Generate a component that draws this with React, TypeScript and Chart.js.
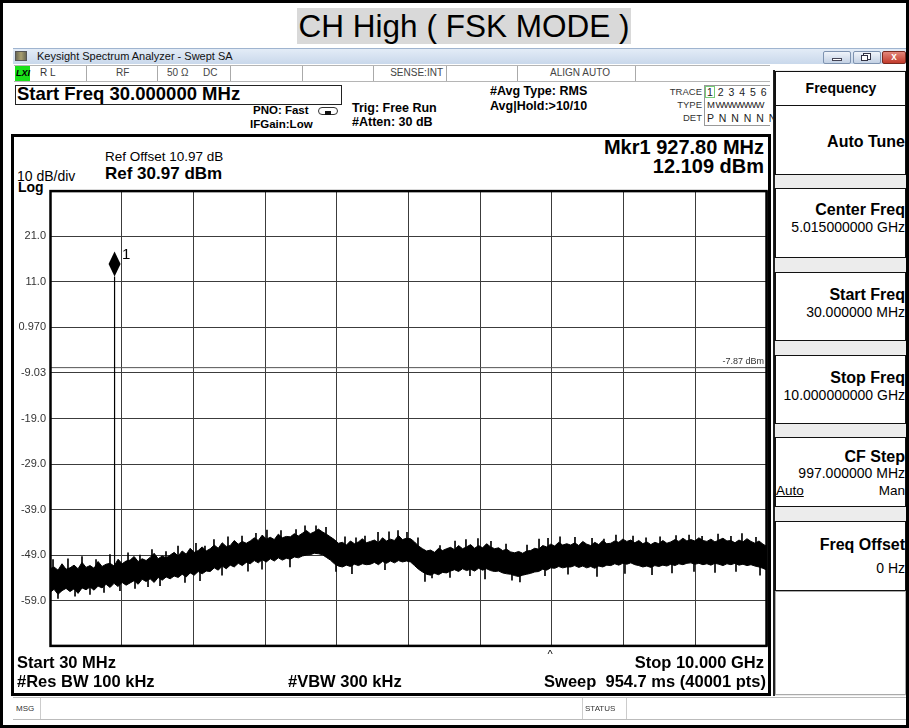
import React, { useEffect, useRef } from "react";
import { Chart, registerables } from "chart.js";

Chart.register(...registerables);

// ---------- data ----------
const startMHz = 30;
const stopMHz = 10000;
const xGridMHz = [30, 1027, 2024, 3021, 4018, 5015, 6012, 7009, 8006, 9003, 10000];
const yTicksDbm = [30.97, 20.97, 10.97, 0.97, -9.03, -19.03, -29.03, -39.03, -49.03, -59.03, -69.03];
const yTickLabels = ["", "21.0", "11.0", "0.970", "-9.03", "-19.0", "-29.0", "-39.0", "-49.0", "-59.0", ""];
const markerFreqMHz = 927.8;
const markerLevelDbm = 12.109;
const signalBaseDbm = -54.5;
const displayLineDbm = -7.87;

// upper / lower envelope of the noise trace, equally spaced from start to stop
const traceUpperDbm = [
  -52.0, -51.6, -52.3, -50.9, -52.1, -51.8, -51.2, -52.0, -50.6, -51.7,
  -51.3, -51.9, -50.4, -51.5, -51.0, -50.8, -51.4, -49.9, -50.9, -50.3,
  -50.1, -49.3, -50.4, -49.8, -50.2, -49.5, -48.6, -49.8, -49.2, -49.6,
  -49.0, -48.4, -49.2, -48.1, -48.8, -47.5, -48.4, -48.0, -47.2, -48.1,
  -47.6, -46.8, -47.5, -46.3, -47.1, -46.9, -45.8, -46.6, -46.0, -46.4,
  -45.9, -45.2, -45.8, -44.6, -45.5, -45.1, -45.6, -44.4, -45.2, -44.9,
  -45.0, -44.3, -44.8, -44.2, -43.6, -44.3, -43.9, -43.3, -43.9, -44.4,
  -45.0, -45.6, -46.4, -46.2, -46.8, -45.9, -46.5, -46.1, -45.4, -46.3,
  -46.0, -45.7, -46.3, -45.2, -45.9, -45.5, -45.8, -44.7, -45.6, -45.3,
  -45.4, -46.1, -47.0, -47.6, -48.1, -47.9, -48.4, -47.5, -48.0, -47.6,
  -47.3, -47.8, -46.9, -47.6, -47.2, -46.7, -47.5, -46.9, -47.4, -46.5,
  -47.2, -47.6, -47.4, -48.0, -47.7, -48.3, -48.5, -48.2, -48.6, -48.1,
  -48.0, -47.5, -47.7, -46.9, -47.2, -46.6, -47.0, -46.2, -46.8, -46.5,
  -46.8, -46.3, -46.9, -46.0, -46.6, -46.9, -46.2, -46.7, -45.8, -46.5,
  -46.4, -45.9, -46.2, -45.5, -46.0, -45.7, -46.3, -45.8, -46.5, -46.1,
  -46.7, -46.2, -46.5, -45.8, -46.4, -46.1, -45.6, -46.0, -45.3, -45.9,
  -45.6, -45.9, -45.2, -45.8, -46.0, -45.5, -46.1, -45.7, -45.3, -45.9,
  -45.8, -46.3, -45.7, -46.1, -45.4, -46.0, -46.4, -45.9, -46.6, -47.1,
];
const traceLowerDbm = [
  -57.2, -56.5, -57.6, -56.8, -56.3, -57.0, -56.4, -57.4, -56.2, -56.6,
  -56.0, -56.7, -55.8, -56.2, -55.4, -56.1, -55.2, -55.9, -55.0, -55.6,
  -55.1, -54.6, -55.4, -54.3, -54.8, -54.2, -55.0, -53.9, -54.5, -53.8,
  -54.2, -53.6, -53.9, -53.2, -53.8, -52.9, -53.4, -52.6, -53.1, -52.5,
  -52.6, -51.8, -52.3, -51.4, -52.0, -51.2, -51.6, -50.8, -51.3, -50.6,
  -50.9, -50.2, -50.7, -50.0, -50.5, -49.8, -50.3, -49.6, -50.1, -49.7,
  -49.9, -49.4, -49.6, -49.2, -49.0, -48.9, -48.6, -48.7, -48.9, -49.5,
  -50.1, -50.9, -51.4, -51.6, -51.2, -51.5, -51.0, -51.3, -50.9, -51.1,
  -51.0, -50.6, -51.1, -50.4, -50.8, -50.3, -50.7, -50.2, -50.5, -50.3,
  -50.5, -51.3, -52.1, -52.7, -53.2, -53.4, -53.0, -53.3, -52.8, -52.9,
  -52.5, -52.2, -52.6, -52.0, -52.4, -52.1, -52.5, -51.9, -52.3, -52.0,
  -52.4, -52.6, -52.5, -52.9, -53.1, -53.2, -53.5, -53.7, -53.4, -53.2,
  -53.0, -52.7, -52.6, -52.1, -52.3, -51.8, -51.9, -51.5, -51.8, -51.6,
  -51.6, -51.3, -51.7, -51.4, -51.8, -51.5, -51.9, -51.4, -51.6, -51.2,
  -51.3, -50.9, -51.2, -50.8, -51.0, -50.7, -51.1, -51.3, -51.6, -51.4,
  -51.7, -51.3, -51.5, -51.2, -51.4, -51.0, -51.3, -50.9, -51.1, -50.8,
  -50.7, -51.0, -50.8, -51.1, -50.9, -51.2, -50.8, -51.0, -51.3, -50.9,
  -51.1, -50.8, -51.2, -51.0, -51.3, -51.1, -51.4, -51.6, -51.9, -52.3,
];

// isolated noise peaks above the band and dips below it
const peakFreqMHz = [
  72, 280, 475, 670, 864, 1115, 1281, 1448, 1643, 1810, 2060, 2185, 2310, 2505, 2700, 2894,
  3047, 3242, 3451, 3576, 3729, 3868, 4132, 4285, 4410, 4591, 4744, 4869, 4994, 5147, 5453,
  5662, 5814, 5981, 6162, 6371, 6663, 6830, 6955, 7122, 7330, 7567, 7733, 7900, 8137, 8318,
  8513, 8735, 8916, 9097, 9319, 9499, 9652, 9847,
];
const peakTopDbm = [
  -50.0, -49.8, -49.3, -50.0, -48.9, -48.5, -49.0, -47.8, -48.2, -47.0, -46.4, -47.0, -45.6, -45.0, -44.8, -44.2,
  -43.5, -43.6, -43.4, -42.6, -42.6, -42.9, -45.0, -45.2, -44.8, -44.0, -43.9, -43.6, -44.0, -45.2, -46.9,
  -45.9, -45.6, -45.4, -46.0, -46.6, -46.8, -45.5, -45.3, -45.0, -45.1, -45.3, -45.5, -44.6, -44.8, -45.2,
  -45.0, -44.7, -44.6, -44.9, -44.4, -44.9, -44.3, -45.1,
];
const dipFreqMHz = [
  141, 378, 586, 781, 1003, 1212, 1393, 1560, 1907, 2116, 2422, 2783, 2978, 3367, 4007, 4229,
  4688, 5244, 5342, 5592, 5870, 6079, 6454, 6565, 6913, 7233, 7636, 8025, 8401, 8679, 8985,
  9277, 9569, 9903,
];
const dipBottomDbm = [
  -58.5, -58.0, -57.6, -57.2, -56.8, -56.3, -55.9, -55.7, -55.0, -54.6, -53.4, -52.5, -52.1, -51.6, -52.6, -53.1,
  -52.2, -54.8, -54.0, -53.9, -53.5, -54.2, -54.5, -54.9, -53.5, -53.2, -53.7, -53.0, -53.3, -52.9, -52.6,
  -52.8, -52.6, -53.4,
];
const peakLengthDb = 4;

// ---------- helpers ----------
const FONT = '"Liberation Sans", Arial, Helvetica, sans-serif';
const W = 909;

type TP = {
  x: number; cy: number; s: number; b?: boolean; a?: "l" | "r" | "c";
  c?: string; children: React.ReactNode; style?: React.CSSProperties;
};
function T({ x, cy, s, b, a = "l", c = "#000", children, style }: TP) {
  const st: React.CSSProperties = {
    position: "absolute", top: cy - 0.49 * s, fontSize: s, lineHeight: `${s}px`,
    fontWeight: b ? 700 : 400, color: c, whiteSpace: "pre", fontFamily: FONT, ...style,
  };
  if (a === "l") st.left = x;
  else if (a === "r") st.right = W - x;
  else { st.left = x; st.transform = "translateX(-50%)"; }
  return <div style={st}>{children}</div>;
}
function B({ x, y, w, h, style }: { x: number; y: number; w: number; h: number; style?: React.CSSProperties }) {
  return <div style={{ position: "absolute", left: x, top: y, width: w, height: h, boxSizing: "border-box", ...style }} />;
}
function VL({ x, y, h, c = "#aaa" }: { x: number; y: number; h: number; c?: string }) {
  return <B x={x} y={y} w={1} h={h} style={{ background: c }} />;
}

const overlayPlugin = {
  id: "saOverlay",
  afterDatasetsDraw(chart: any) {
    const { ctx, chartArea: a, scales } = chart;
    const xs = scales.x, ys = scales.y;
    ctx.save();
    ctx.strokeStyle = "#000";
    ctx.lineWidth = 2.5;
    ctx.strokeRect(a.left + 0.5, a.top + 0.5, a.right - a.left - 1, a.bottom - a.top - 1);
    // display line label
    ctx.font = `9px ${FONT}`;
    ctx.fillStyle = "#333";
    ctx.textAlign = "right";
    ctx.textBaseline = "bottom";
    ctx.fillText(`${displayLineDbm.toFixed(2)} dBm`, a.right - 3, ys.getPixelForValue(displayLineDbm) - 2);
    // marker diamond
    const px = xs.getPixelForValue(markerFreqMHz);
    const py = ys.getPixelForValue(markerLevelDbm);
    ctx.beginPath();
    ctx.moveTo(px, py);
    ctx.lineTo(px + 6, py - 12.5);
    ctx.lineTo(px, py - 25);
    ctx.lineTo(px - 6, py - 12.5);
    ctx.closePath();
    ctx.fillStyle = "#000";
    ctx.fill();
    ctx.font = `15px ${FONT}`;
    ctx.textAlign = "left";
    ctx.textBaseline = "middle";
    ctx.fillText("1", px + 7.5, py - 22);
    ctx.restore();
  },
};

export default function App() {
  const ref = useRef<HTMLCanvasElement>(null);
  useEffect(() => {
    const n = traceUpperDbm.length;
    const step = (stopMHz - startMHz) / (n - 1);
    const up = traceUpperDbm.map((v, i) => ({ x: startMHz + i * step, y: v }));
    const lo = traceLowerDbm.map((v, i) => ({ x: startMHz + i * step, y: v }));
    const peaks = peakFreqMHz.map((f, i) => ({ x: f, y: [peakTopDbm[i] - peakLengthDb, peakTopDbm[i]] }));
    const dips = dipFreqMHz.map((f, i) => ({ x: f, y: [dipBottomDbm[i], dipBottomDbm[i] + peakLengthDb] }));
    const chart = new Chart(ref.current as HTMLCanvasElement, {
      type: "line",
      data: {
        datasets: [
          { data: lo, borderColor: "#000", borderWidth: 1, pointRadius: 0, fill: false },
          { data: up, borderColor: "#000", backgroundColor: "#000", borderWidth: 1, pointRadius: 0, fill: "-1" },
          { type: "bar", data: peaks, backgroundColor: "#000", barThickness: 1, grouped: false },
          { type: "bar", data: dips, backgroundColor: "#000", barThickness: 1, grouped: false },
          {
            data: [{ x: markerFreqMHz, y: signalBaseDbm }, { x: markerFreqMHz, y: markerLevelDbm }],
            borderColor: "#000", borderWidth: 1.2, pointRadius: 0, fill: false,
          },
          {
            data: [{ x: startMHz, y: displayLineDbm }, { x: stopMHz, y: displayLineDbm }],
            borderColor: "#555", borderWidth: 1, pointRadius: 0, fill: false,
          },
        ],
      } as any,
      options: {
        animation: false,
        responsive: false,
        maintainAspectRatio: false,
        devicePixelRatio: 1,
        layout: { padding: { left: 0, right: 7, top: 7, bottom: 7 } },
        plugins: { legend: { display: false }, tooltip: { enabled: false } },
        elements: { line: { tension: 0 } },
        scales: {
          x: {
            type: "linear", min: startMHz, max: stopMHz, offset: false,
            afterBuildTicks: (s: any) => { s.ticks = xGridMHz.map((v) => ({ value: v })); },
            afterFit: (s: any) => { s.height = 0; },
            ticks: { display: false },
            grid: { color: "#3c3c3c", lineWidth: 1, drawTicks: false, offset: false },
            border: { display: false },
          },
          y: {
            type: "linear", min: -69.03, max: 30.97,
            afterBuildTicks: (s: any) => { s.ticks = yTicksDbm.map((v) => ({ value: v })); },
            afterFit: (s: any) => { s.width = 36; },
            ticks: {
              padding: 4,
              color: "#333",
              font: { family: FONT, size: 11 },
              callback: (value: any) => {
                const i = yTicksDbm.findIndex((v) => Math.abs(v - Number(value)) < 1e-6);
                return i >= 0 ? yTickLabels[i] : "";
              },
            },
            grid: { color: "#3c3c3c", lineWidth: 1, drawTicks: false },
            border: { display: false },
          },
        },
      } as any,
      plugins: [overlayPlugin],
    });
    return () => chart.destroy();
  }, []);

  const keyBox = (y: number, h: number) => (
    <B x={774} y={y} w={132} h={h} style={{ background: "#fff", border: "1px solid #111", borderLeft: "2px solid #111" }} />
  );

  return (
    <div style={{ position: "absolute", left: 0, top: 0, width: W, height: 728, background: "#fff", overflow: "hidden", fontFamily: FONT }}>
      {/* title */}
      <div style={{ position: "absolute", left: 164, width: 600, top: 8, textAlign: "center" }}>
        <span style={{ background: "#d9d9d9", fontSize: 31.5, lineHeight: "36px", padding: "0 2px", display: "inline-block", fontFamily: FONT }}>
          CH High ( FSK MODE )
        </span>
      </div>

      {/* window title bar */}
      <B x={13} y={48} w={893} h={16} style={{ background: "linear-gradient(#e3ecf7, #c9d8eb)", borderTop: "1px solid #9fb4cf" }} />
      <B x={15} y={51} w={12} h={10} style={{ background: "linear-gradient(90deg,#6b6a55,#a89f70,#6b6a55)", border: "1px solid #555" }} />
      <T x={37} cy={56} s={11} c="#111">Keysight Spectrum Analyzer - Swept SA</T>
      <B x={823} y={51} w={28} h={13} style={{ background: "linear-gradient(#f0f4fa,#c3d1e4)", border: "1px solid #7e93b0", borderRadius: 2 }} />
      <B x={832} y={58} w={10} h={3} style={{ background: "#fff", border: "1px solid #445" }} />
      <B x={853} y={51} w={28} h={13} style={{ background: "linear-gradient(#f0f4fa,#c3d1e4)", border: "1px solid #7e93b0", borderRadius: 2 }} />
      <B x={863} y={53} w={8} h={7} style={{ border: "1px solid #334", background: "#fff" }} />
      <B x={861} y={55} w={7} h={6} style={{ border: "1px solid #334", background: "#fff" }} />
      <B x={882} y={51} w={24} h={13} style={{ background: "linear-gradient(#e2867a,#c23b2c)", border: "1px solid #7a2a20", borderRadius: 2 }} />
      <T x={894} cy={57} s={10} b a="c" c="#fff">x</T>

      {/* status row */}
      <B x={14} y={65} w={756} h={17} style={{ background: "#fff", borderTop: "1px solid #b5b5b5", borderBottom: "1px solid #b5b5b5" }} />
      <B x={15} y={66} w={15} h={15} style={{ background: "#19e019" }} />
      <T x={16} cy={73} s={9} b c="#000" style={{ fontStyle: "italic" }}>LXI</T>
      <T x={40} cy={73} s={10} c="#333">R L</T>
      <VL x={86} y={66} h={15} />
      <T x={116} cy={73} s={10} c="#444">RF</T>
      <VL x={157} y={66} h={15} />
      <T x={167} cy={73} s={10} c="#444">50 Ω</T>
      <T x={203} cy={73} s={10} c="#444">DC</T>
      <VL x={230} y={66} h={15} />
      <VL x={302} y={66} h={15} />
      <VL x={373} y={66} h={15} />
      <T x={443} cy={73} s={10} a="r" c="#444">SENSE:INT</T>
      <VL x={446} y={66} h={15} />
      <VL x={517} y={66} h={15} />
      <T x={580} cy={73} s={10} a="c" c="#444">ALIGN AUTO</T>
      <VL x={635} y={66} h={15} />

      {/* header info */}
      <B x={15} y={85} w={327} h={20} style={{ border: "1px solid #222", background: "#fff" }} />
      <T x={17} cy={94} s={18.5} b>Start Freq 30.000000 MHz</T>
      <T x={253} cy={111} s={11.5} b>PNO: Fast</T>
      <T x={250} cy={125} s={11.5} b>IFGain:Low</T>
      <B x={318} y={107} w={20} h={8} style={{ border: "1.5px solid #333", borderRadius: 5 }} />
      <B x={325} y={111} w={6} h={4} style={{ background: "#111" }} />
      <T x={352} cy={108} s={12.5} b>Trig: Free Run</T>
      <T x={352} cy={122} s={12.5} b>#Atten: 30 dB</T>
      <T x={490} cy={91.5} s={12.5} b>#Avg Type: RMS</T>
      <T x={490} cy={106.5} s={12.5} b>Avg|Hold:&gt;10/10</T>
      <T x={702} cy={92} s={9.5} a="r" c="#333">TRACE</T>
      <T x={702} cy={105} s={9.5} a="r" c="#333">TYPE</T>
      <T x={702} cy={118} s={9.5} a="r" c="#333">DET</T>
      <B x={704} y={85} w={66} h={41} style={{ borderLeft: "1px solid #999", borderTop: "1px solid #999", borderBottom: "1px solid #999" }} />
      <B x={705} y={86} w={10} h={12} style={{ border: "1px solid #7c7" }} />
      <T x={707} cy={92} s={10.5} c="#222" style={{ letterSpacing: 1 }}>1 2 3 4 5 6</T>
      <T x={707} cy={105} s={9.5} c="#222" style={{ letterSpacing: -1 }}>M WWWWWW</T>
      <T x={707} cy={118} s={10.5} c="#222" style={{ letterSpacing: 1 }}>P N N N N N</T>

      {/* display box */}
      <B x={11} y={134} w={760} h={562} style={{ border: "3px solid #000" }} />
      <T x={105} cy={157} s={13.5}>Ref Offset 10.97 dB</T>
      <T x={105} cy={173} s={17} b>Ref 30.97 dBm</T>
      <T x={17} cy={176} s={14}>10 dB/div</T>
      <T x={18} cy={187} s={14} b>Log</T>
      <T x={764} cy={147} s={20} b a="r">Mkr1 927.80 MHz</T>
      <T x={764} cy={166} s={20} b a="r">12.109 dBm</T>

      <canvas ref={ref} width={760} height={477} style={{ position: "absolute", left: 14, top: 180, width: 760, height: 477, display: "block" }} />

      <T x={550} cy={654} s={11} a="c">^</T>
      <T x={17} cy={662} s={16.5} b>Start 30 MHz</T>
      <T x={17} cy={681} s={16.5} b>#Res BW 100 kHz</T>
      <T x={288} cy={681} s={16.5} b>#VBW 300 kHz</T>
      <T x={764} cy={662} s={16.5} b a="r">Stop 10.000 GHz</T>
      <T x={766} cy={681} s={16.5} b a="r">Sweep  954.7 ms (40001 pts)</T>

      {/* right softkey panel */}
      <B x={773} y={70} w={134} h={626} style={{ background: "#ececec", borderLeft: "2px solid #222", borderRight: "1px solid #999" }} />
      {keyBox(71, 35)}
      <T x={841} cy={88} s={14} b a="c">Frequency</T>
      {keyBox(105, 70)}
      <T x={905} cy={142} s={16} b a="r">Auto Tune</T>
      {keyBox(188, 70)}
      <T x={905} cy={210} s={16} b a="r">Center Freq</T>
      <T x={905} cy={227} s={14} a="r">5.015000000 GHz</T>
      {keyBox(272, 69)}
      <T x={905} cy={295} s={16} b a="r">Start Freq</T>
      <T x={905} cy={312} s={14} a="r">30.000000 MHz</T>
      {keyBox(355, 69)}
      <T x={905} cy={378} s={16} b a="r">Stop Freq</T>
      <T x={905} cy={395} s={14} a="r">10.000000000 GHz</T>
      {keyBox(437, 70)}
      <T x={905} cy={457} s={16} b a="r">CF Step</T>
      <T x={905} cy={473} s={14} a="r">997.000000 MHz</T>
      <T x={776} cy={491} s={13.5} style={{ textDecoration: "underline" }}>Auto</T>
      <T x={905} cy={491} s={13.5} a="r">Man</T>
      {keyBox(521, 70)}
      <T x={905} cy={545} s={16} b a="r">Freq Offset</T>
      <T x={905} cy={568} s={14} a="r">0 Hz</T>
      <B x={775} y={591} w={131} h={104} style={{ background: "#fff", border: "1px solid #aaa" }} />

      {/* message row */}
      <B x={13} y={697} w={893} h={23} style={{ background: "#fff", borderTop: "1px solid #bbb", borderBottom: "1px solid #bbb" }} />
      <T x={16} cy={709} s={8} c="#333">MSG</T>
      <VL x={40} y={698} h={21} c="#ccc" />
      <VL x={582} y={698} h={21} c="#ccc" />
      <T x={585} cy={709} s={8} c="#333">STATUS</T>
      <VL x={626} y={698} h={21} c="#ccc" />

      {/* outer frame */}
      <B x={0} y={0} w={W} h={728} style={{ border: "3px solid #000", pointerEvents: "none" }} />
    </div>
  );
}
